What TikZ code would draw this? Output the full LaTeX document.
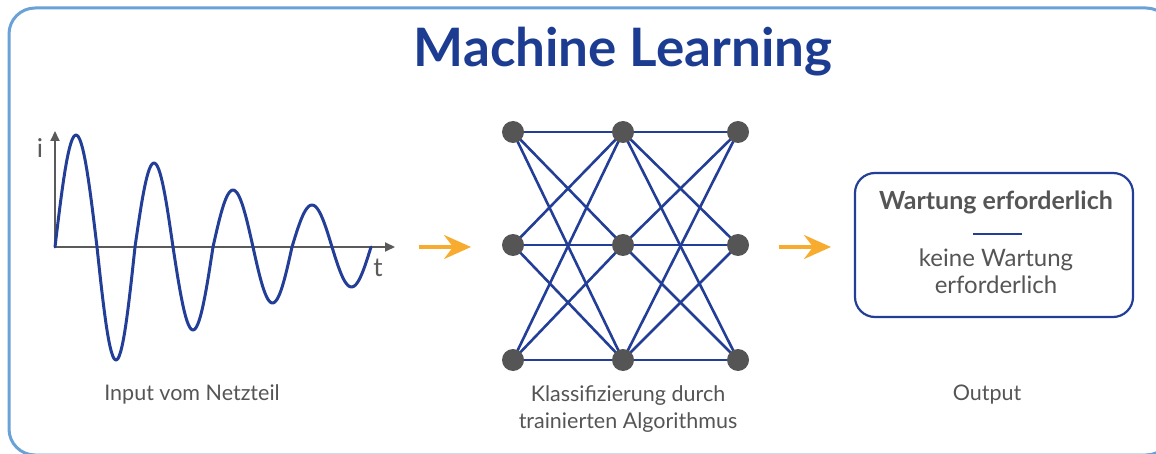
\documentclass[tikz,border=0pt]{standalone}
\usepackage{fontspec}
\setmainfont{Lato}
\usetikzlibrary{arrows.meta,backgrounds}
\definecolor{navy}{RGB}{35,62,150}
\definecolor{titleblue}{RGB}{28,60,145}
\definecolor{framebl}{RGB}{106,162,216}
\definecolor{axgray}{RGB}{90,90,90}
\definecolor{nodegray}{RGB}{85,85,85}
\definecolor{txtgray}{RGB}{85,85,85}
\definecolor{orng}{RGB}{248,172,47}
\tikzset{
  frame/.style={draw=framebl, line width=3pt, rounded corners=26pt},
  axisline/.style={draw=axgray, line width=2pt, -{Triangle[length=10pt,width=9pt]}},
  wave/.style={draw=navy, line width=3pt, line join=round, line cap=round},
  neuron/.style={circle, fill=nodegray, minimum size=22pt, inner sep=0pt},
  link/.style={draw=navy, line width=2.6pt},
  flow/.style={draw=orng, line width=3.5pt, -{Stealth[length=27pt,width=24pt,inset=9pt]}},
  outbox/.style={draw=navy, line width=2.2pt, rounded corners=20pt, minimum width=278pt, minimum height=144pt},
  lbl/.style={text=txtgray, font=\fontsize{21.5}{27}\selectfont, align=center, inner sep=0pt},
  boxtxt/.style={text=txtgray, font=\fontsize{24}{27}\selectfont, align=center, inner sep=0pt},
}
\begin{document}
\begin{tikzpicture}[x=1pt,y=-1pt]
\useasboundingbox (0,0) rectangle (1156,454);
\draw[frame] (9,8) rectangle (1172,455);
% title
\node[anchor=base, inner sep=0pt, text=titleblue, font=\fontsize{53}{60}\bfseries\selectfont] (title) at (623,67) {Machine Learning};
% axes
\coordinate (origin) at (55,247);
\coordinate (xend) at (395,247);
\coordinate (yend) at (55,131);
\draw[axisline] (origin) -- (xend);
\draw[axisline] (origin) -- (yend);
\node[text=axgray, font=\fontsize{26}{26}\selectfont, inner sep=0pt] (ilabel) at (40,148) {i};
\node[text=axgray, font=\fontsize{26}{26}\selectfont, inner sep=0pt] (tlabel) at (378,268) {t};
% waveform
\draw[wave]
  plot[domain=55:97,samples=30] (\x,{247-112*sin(180*(\x-55)/42)})
  -- plot[domain=97:135,samples=30] (\x,{247+113*sin(180*(\x-97)/38)})
  -- plot[domain=135:173,samples=30] (\x,{247-84*sin(180*(\x-135)/38)})
  -- plot[domain=173:213,samples=30] (\x,{247+83*sin(180*(\x-173)/40)})
  -- plot[domain=213:253,samples=30] (\x,{247-57*sin(180*(\x-213)/40)})
  -- plot[domain=253:292,samples=30] (\x,{247+56*sin(180*(\x-253)/39)})
  -- plot[domain=292:332,samples=30] (\x,{247-42*sin(180*(\x-292)/40)})
  -- plot[domain=332:371,samples=30] (\x,{247+40*sin(180*(\x-332)/39)});
\node[lbl, anchor=base] (inlbl) at (192,400) {Input vom Netzteil};
% arrows
\coordinate (a1s) at (419,247);
\coordinate (a1e) at (471,247);
\draw[flow] (a1s) -- (a1e);
\coordinate (a2s) at (779,247);
\coordinate (a2e) at (831,247);
\draw[flow] (a2s) -- (a2e);
% network
\foreach \c/\x in {1/513,2/623,3/738}{
  \foreach \r/\y in {1/132,2/245,3/360}{
    \node[neuron] (n\c\r) at (\x,\y) {};
  }
}
\begin{scope}[on background layer]
\foreach \a in {1,2,3}{
  \foreach \b in {1,2,3}{
    \draw[link] (n1\a.center) -- (n2\b.center);
    \draw[link] (n2\a.center) -- (n3\b.center);
  }
}
\end{scope}
\node[lbl, anchor=base] (netlbl) at (628,428) {Klassifizierung durch\\trainierten Algorithmus};
% output
\node[outbox] (out) at (994,245) {};
\node[anchor=base, inner sep=0pt, text=txtgray, font=\fontsize{25}{27}\bfseries\selectfont] (yes) at (996,210) {Wartung erforderlich};
\coordinate (sepl) at (973,234);
\coordinate (sepr) at (1022,234);
\draw[navy, line width=2.5pt] (sepl) -- (sepr);
\node[boxtxt, anchor=base] (no) at (996,294) {keine Wartung\\erforderlich};
\node[lbl, anchor=base] (outlbl) at (987,400) {Output};
\end{tikzpicture}
\end{document}
